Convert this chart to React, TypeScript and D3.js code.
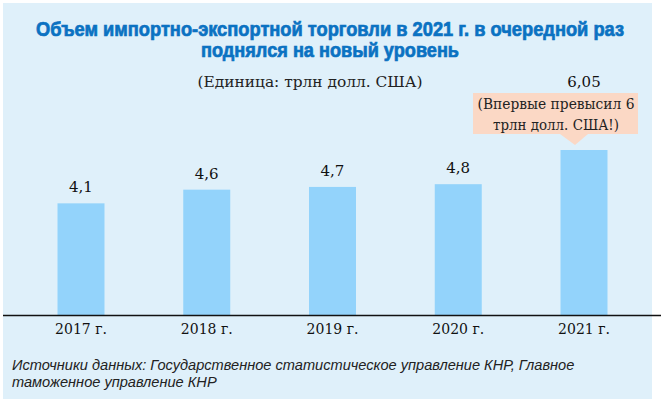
import { useRef, useEffect } from 'react';
import * as d3 from 'd3';

const years = ['2017 г.', '2018 г.', '2019 г.', '2020 г.', '2021 г.'];
const values = [4.1, 4.6, 4.7, 4.8, 6.05];
const valueLabels = ['4,1', '4,6', '4,7', '4,8', '6,05'];
const titleLines = [
  'Объем импортно-экспортной торговли в 2021 г. в очередной раз',
  'поднялся на новый уровень',
];
const unitLabel = '(Единица: трлн долл. США)';
const noteLines = ['(Впервые превысил 6', 'трлн долл. США!)'];
const sourceLines = [
  'Источники данных: Государственное статистическое управление КНР, Главное',
  'таможенное управление КНР',
];

const W = 661;
const H = 399;

const App = () => {
  const svgRef = useRef<SVGSVGElement>(null);

  useEffect(() => {
    const svg = d3.select(svgRef.current);
    svg.selectAll('*').remove();

    const serif = '"DejaVu Serif", "Liberation Serif", serif';
    const narrow = '"Liberation Sans Narrow", "Liberation Sans", sans-serif';
    const base = 315.5;

    // background
    svg.append('rect')
      .attr('x', 3).attr('y', 3)
      .attr('width', 649).attr('height', H - 3)
      .attr('fill', '#dff0fa');

    // title
    svg.selectAll('text.title')
      .data(titleLines)
      .enter()
      .append('text')
      .attr('class', 'title')
      .text(d => d)
      .attr('x', 330)
      .attr('y', (d, i) => 36 + i * 21)
      .attr('text-anchor', 'middle')
      .attr('font-family', narrow)
      .attr('font-weight', 'bold')
      .attr('font-size', 20)
      .attr('textLength', (d, i) => (i === 0 ? 588 : 258))
      .attr('lengthAdjust', 'spacingAndGlyphs')
      .attr('fill', '#0b72c2')
      .attr('stroke', '#0b72c2')
      .attr('stroke-width', 0.7);

    svg.append('text')
      .text(unitLabel)
      .attr('x', 310)
      .attr('y', 87)
      .attr('text-anchor', 'middle')
      .attr('font-family', serif)
      .attr('font-size', 15)
      .attr('textLength', 225)
      .attr('lengthAdjust', 'spacingAndGlyphs')
      .attr('fill', '#222');

    const xScale = d3.scalePoint()
      .domain(years)
      .range([81, 584]);

    const yScale = d3.scaleLinear()
      .domain([0, 6.05])
      .range([base, 150]);

    const bw = 47;
    const cx = (d: string) => xScale(d) as number;

    // bars
    svg.selectAll('rect.bar')
      .data(values)
      .enter()
      .append('rect')
      .attr('class', 'bar')
      .attr('x', (d, i) => cx(years[i]) - bw / 2)
      .attr('y', d => yScale(d))
      .attr('width', bw)
      .attr('height', d => base - yScale(d))
      .attr('fill', '#93d3fb');

    // baseline
    svg.append('line')
      .attr('x1', 3).attr('x2', W)
      .attr('y1', base).attr('y2', base)
      .attr('stroke', '#111')
      .attr('stroke-width', 1.3);

    // category labels
    svg.selectAll('text.cat')
      .data(years)
      .enter()
      .append('text')
      .attr('class', 'cat')
      .text(d => d)
      .attr('x', d => cx(d))
      .attr('y', 334)
      .attr('text-anchor', 'middle')
      .attr('font-family', serif)
      .attr('font-size', 14)
      .attr('fill', '#111');

    // value labels
    svg.selectAll('text.val')
      .data(values)
      .enter()
      .append('text')
      .attr('class', 'val')
      .text((d, i) => valueLabels[i])
      .attr('x', (d, i) => cx(years[i]))
      .attr('y', (d, i) => (i === 4 ? 87 : yScale(d) - 11))
      .attr('text-anchor', 'middle')
      .attr('font-family', serif)
      .attr('font-size', 15)
      .attr('fill', '#111');

    // callout for 2021
    const lastX = cx(years[4]);
    svg.append('rect')
      .attr('x', 473).attr('y', 93)
      .attr('width', 165).attr('height', 41)
      .attr('fill', '#fbd8c5');
    svg.append('path')
      .attr('d', `M${lastX - 24},134 L${lastX + 4},134 L${lastX - 9},145 Z`)
      .attr('fill', '#fbd8c5');
    svg.selectAll('text.note')
      .data(noteLines)
      .enter()
      .append('text')
      .attr('class', 'note')
      .text(d => d)
      .attr('x', 556)
      .attr('y', (d, i) => 109 + i * 21)
      .attr('text-anchor', 'middle')
      .attr('font-family', serif)
      .attr('font-size', 14.5)
      .attr('textLength', (d, i) => (i === 0 ? 157 : 126))
      .attr('lengthAdjust', 'spacingAndGlyphs')
      .attr('fill', '#222');

    // sources
    svg.selectAll('text.src')
      .data(sourceLines)
      .enter()
      .append('text')
      .attr('class', 'src')
      .text(d => d)
      .attr('x', 12)
      .attr('y', (d, i) => 370 + i * 17)
      .attr('font-family', narrow)
      .attr('font-style', 'italic')
      .attr('font-size', 14.6)
      .attr('fill', '#222');
  }, []);

  return (
    <div style={{ position: 'absolute', left: 0, top: 0 }}>
      <svg ref={svgRef} width={W} height={H} style={{ display: 'block', background: '#fff' }}></svg>
    </div>
  );
};

export default App;
